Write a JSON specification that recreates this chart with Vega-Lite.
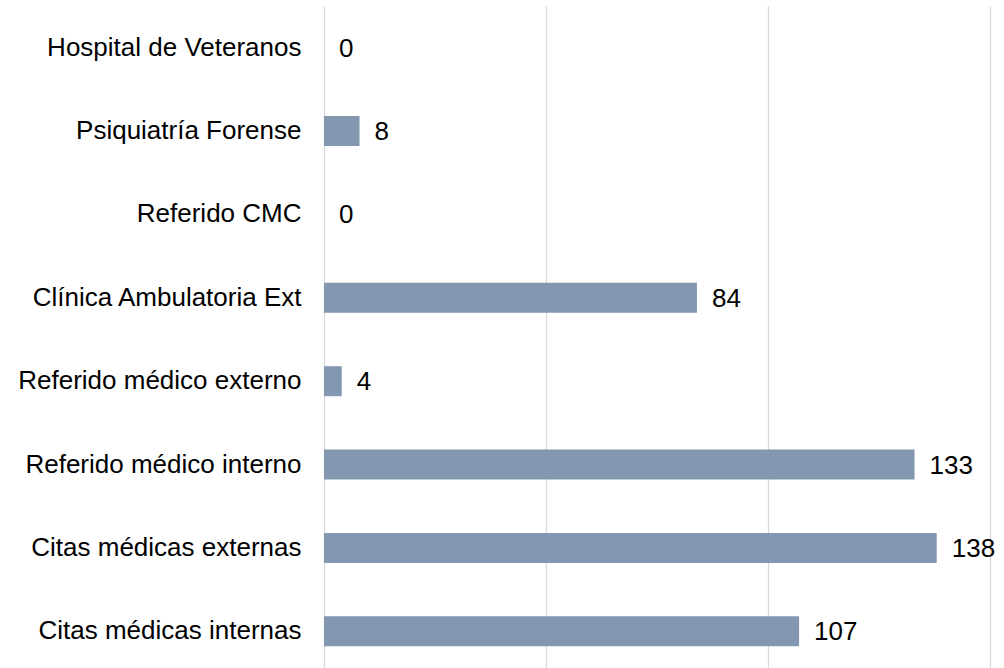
{
  "$schema": "https://vega.github.io/schema/vega-lite/v6.json",
  "autosize": "none",
  "padding": {"left": 324, "top": 6, "right": 14, "bottom": 0},
  "width": 666,
  "height": 667,
  "background": "white",
  "config": {
    "view": {"stroke": null},
    "font": "Liberation Sans"
  },
  "data": {
    "values": [
      {"categoria": "Hospital de Veteranos", "valor": 0},
      {"categoria": "Psiquiatría Forense", "valor": 8},
      {"categoria": "Referido CMC", "valor": 0},
      {"categoria": "Clínica Ambulatoria Ext", "valor": 84},
      {"categoria": "Referido médico externo", "valor": 4},
      {"categoria": "Referido médico interno", "valor": 133},
      {"categoria": "Citas médicas externas", "valor": 138},
      {"categoria": "Citas médicas internas", "valor": 107}
    ]
  },
  "encoding": {
    "y": {
      "field": "categoria",
      "type": "nominal",
      "sort": null,
      "scale": {"paddingInner": 0.64, "paddingOuter": 0.32},
      "axis": {
        "title": null,
        "domain": false,
        "ticks": false,
        "grid": false,
        "labelFont": "Liberation Sans",
        "labelFontSize": 26,
        "labelColor": "#000000",
        "labelPadding": 23,
        "labelLimit": 400
      }
    },
    "x": {
      "field": "valor",
      "type": "quantitative",
      "scale": {"domain": [0, 150], "nice": false},
      "axis": {
        "title": null,
        "values": [0, 50, 100, 150],
        "labels": false,
        "ticks": false,
        "domain": false,
        "grid": true,
        "gridColor": "#d9d9d9",
        "gridWidth": 1.3
      }
    }
  },
  "layer": [
    {"mark": {"type": "bar", "color": "#8497B0"}},
    {
      "mark": {
        "type": "text",
        "align": "left",
        "baseline": "middle",
        "dx": 15,
        "dy": 1,
        "fontSize": 26,
        "font": "Liberation Sans",
        "color": "#000000"
      },
      "encoding": {"text": {"field": "valor", "type": "quantitative"}}
    }
  ]
}
